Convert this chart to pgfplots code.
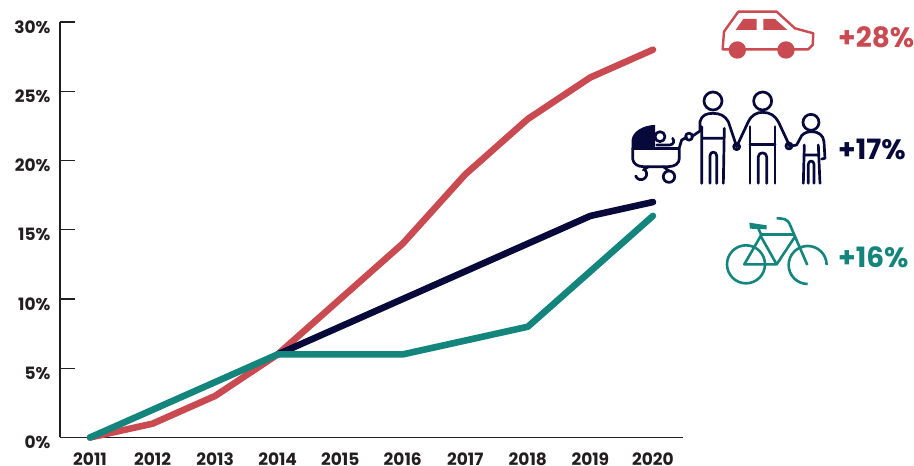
\documentclass[border=0pt]{standalone}
\usepackage{pgfplots}
\pgfplotsset{compat=1.18}
\usepackage{fontspec}
\setmainfont{Poppins}
\definecolor{cred}{HTML}{C94A50}
\definecolor{cnavy}{HTML}{07093A}
\definecolor{cteal}{HTML}{14857C}
\definecolor{cdark}{HTML}{231F20}
\begin{document}
\begin{tikzpicture}
\path[use as bounding box] (0,0) rectangle (914pt,466pt);
\begin{axis}[
  at={(60pt,28.5pt)}, anchor=origin,
  scale only axis, width=623pt, height=415.5pt,
  xmin=2010.52, xmax=2020.48, ymin=0, ymax=30,
  axis lines=left, axis line style={-, cdark, line width=1.6pt},
  xtick={2011,...,2020}, ytick={0,5,...,30},
  x tick label style={/pgf/number format/1000 sep={}},
  xtick style={draw=none},
  ytick style={cdark, line width=1.4pt},
  tick align=inside,
  major tick length=15pt,
  /pgf/number format/assume math mode=true,
  yticklabel={\pgfmathprintnumber{\tick}\%},
  tick label style={font=\fontsize{17}{17}\selectfont\bfseries, text=cdark},
  yticklabel style={yshift=-5pt, xshift=-6pt, anchor=east},
  xticklabel style={inner sep=0pt, anchor=north, yshift=-15pt},
  every axis plot/.style={line width=6.6pt, line cap=round, line join=round, mark=none},
  clip=false,
]
\addplot[cred] coordinates {(2011,0)(2012,1)(2013,3)(2014,6)(2015,10)(2016,14)(2017,19)(2018,23)(2019,26)(2020,28)};
\addplot[cnavy] coordinates {(2014,6)(2015,8)(2016,10)(2017,12)(2018,14)(2019,16)(2020,17)};
\addplot[cteal] coordinates {(2011,0)(2012,2)(2013,4)(2014,6)(2015,6)(2016,6)(2017,7)(2018,8)(2019,12)(2020,16)};
\end{axis}
% value labels
\begin{scope}[x=1pt,y=-1pt,yshift=466pt]
\node[anchor=base west,inner sep=0,text=cred,font=\fontsize{28}{28}\selectfont\bfseries] at (838,47.5) {+28\%};
\node[anchor=base west,inner sep=0,text=cnavy,font=\fontsize{28}{28}\selectfont\bfseries] at (838,159.5) {+17\%};
\node[anchor=base west,inner sep=0,text=cteal,font=\fontsize{28}{28}\selectfont\bfseries] at (838,268) {+16\%};
\end{scope}
% car
\begin{scope}[x=0.3333pt,y=-0.3333pt,yshift=466pt,xshift=620pt]
\draw[cred,line width=2.4pt,line join=round] (308,148) -- (312,95) -- (355,35) -- (470,35) -- (525,85) -- (580,100) -- (578,135) -- (565,148) -- cycle;
\fill[cred] (352,150) circle[radius=8.7pt] (498,150) circle[radius=8.7pt];
\fill[cred] (347,90) -- (370,57) -- (410,57) -- (410,90) -- cycle;
\fill[cred] (430,57) -- (465,57) -- (502,90) -- (430,90) -- cycle;
\end{scope}
% family
\begin{scope}[x=0.3333pt,y=-0.3333pt,yshift=381pt,xshift=620pt,cnavy,line width=2.7pt,line cap=round,line join=round]
\draw (279,48) circle[radius=9pt];
\draw (207,155) circle[radius=3.5pt];
\draw (215,155) -- (240,138) -- (240,110) .. controls (245,90) and (260,85) .. (279,85) .. controls (300,85) and (315,92) .. (325,110) -- (350,185);
\draw (245,125) -- (245,295) (313,130) -- (310,295) (245,160) -- (310,160);
\draw (270,295) -- (270,212) .. controls (270,198) and (290,198) .. (290,212) -- (290,295);
\draw (428,48) circle[radius=9pt];
\draw (350,185) -- (385,110) .. controls (395,90) and (410,82) .. (428,82) .. controls (450,82) and (465,92) .. (475,110) -- (510,185);
\draw (390,125) -- (390,295) (465,125) -- (465,295) (390,178) -- (465,178);
\draw (415,295) -- (415,215) .. controls (415,200) and (440,200) .. (440,215) -- (440,295);
\draw (350,185) circle[radius=3pt] (507,183) circle[radius=3pt];
\draw (573,112) circle[radius=8pt];
\draw (515,183) -- (530,180) -- (545,152) .. controls (552,143) and (565,140) .. (575,140) .. controls (595,140) and (610,150) .. (612,170) -- (615,220) -- (605,222);
\draw (553,180) -- (550,295) (595,180) -- (600,295) (553,210) -- (597,210);
\draw (565,295) -- (565,238) .. controls (565,225) and (582,225) .. (582,238) -- (582,295);
\fill (35,190) -- (35,165) .. controls (37,140) and (70,120) .. (105,120) -- (105,190) -- cycle;
\draw (38,190) -- (175,190);
\draw (38,190) -- (38,222) .. controls (40,238) and (55,245) .. (70,245) -- (145,245) .. controls (165,245) and (178,235) .. (178,220) -- (178,188) -- (185,165) -- (200,157);
\draw (120,155) circle[radius=5pt];
\draw (110,180) -- (150,180) .. controls (160,178) and (165,170) .. (158,160);
\draw (147,275) circle[radius=5.7pt];
\draw (75,255) arc[start angle=45, end angle=-160, radius=5.7pt];
\draw (85,245) -- (70,255) (130,245) -- (147,258);
\end{scope}
% bike
\begin{scope}[x=0.3333pt,y=-0.3333pt,yshift=266pt,xshift=700pt,cteal,line width=2.6pt,line join=round]
\draw (138,193) circle[radius=19pt];
\draw (380,195) arc[start angle=0, end angle=270, radius=19pt];
\draw (133,193) -- (182,108) -- (230,193) -- cycle;
\draw (182,103) -- (285,103);
\draw (285,110) -- (230,193);
\draw (322,195) -- (268,70) .. controls (262,58) and (250,55) .. (230,55);
\fill (148,68) -- (200,76) -- (200,88) -- (150,86) -- cycle;
\draw (175,85) -- (185,108);
\end{scope}
\end{tikzpicture}
\end{document}
